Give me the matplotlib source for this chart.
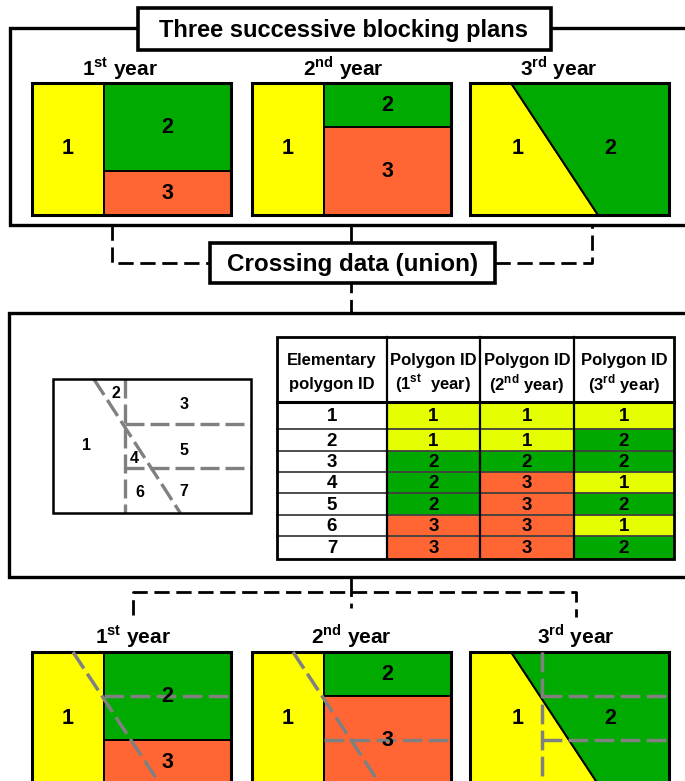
import matplotlib
matplotlib.use("Agg")
import matplotlib.pyplot as plt
from matplotlib.patches import Rectangle, Polygon

plt.rcParams['font.family'] = ['Liberation Sans', 'DejaVu Sans']
plt.rcParams['mathtext.fontset'] = 'custom'
plt.rcParams['mathtext.rm'] = 'Liberation Sans'
plt.rcParams['mathtext.bf'] = 'Liberation Sans:bold'

# ---- data ----
title_top = 'Three successive blocking plans'
title_mid = 'Crossing data (union)'
year_labels = [r'1$^{\mathbf{st}}$ year', r'2$^{\mathbf{nd}}$ year', r'3$^{\mathbf{rd}}$ year']
header_l1 = ['Elementary', 'Polygon ID', 'Polygon ID', 'Polygon ID']
header_l2 = ['polygon ID', r'(1$^{\mathbf{st}}$  year)', r'(2$^{\mathbf{nd}}$ year)', r'(3$^{\mathbf{rd}}$ year)']
elem_ids = [1, 2, 3, 4, 5, 6, 7]
year1_ids = [1, 1, 2, 2, 2, 3, 3]
year2_ids = [1, 1, 2, 3, 3, 3, 3]
year3_ids = [1, 2, 2, 1, 2, 1, 2]
# where each elementary polygon number sits in the small sketch (fractions)
elem_label_pos = [(0.17, 0.50), (0.32, 0.11), (0.66, 0.19), (0.41, 0.59),
                  (0.66, 0.53), (0.44, 0.85), (0.66, 0.84)]

panel_col = {1: '#FFFF00', 2: '#00AA00', 3: '#FF6633'}
table_col = {1: '#E6FF00', 2: '#00A800', 3: '#FF6633'}
GRAY = '#808080'

# geometry of the blocks, as fractions of a panel
DIV_X, CUT1, CUT2 = 0.362, 0.667, 0.333
D0, D1 = 0.206, 0.643


def regions(year):
    if year == 0:
        return {1: [(0, 0), (DIV_X, 0), (DIV_X, 1), (0, 1)],
                2: [(DIV_X, 0), (1, 0), (1, CUT1), (DIV_X, CUT1)],
                3: [(DIV_X, CUT1), (1, CUT1), (1, 1), (DIV_X, 1)]}
    if year == 1:
        return {1: [(0, 0), (DIV_X, 0), (DIV_X, 1), (0, 1)],
                2: [(DIV_X, 0), (1, 0), (1, CUT2), (DIV_X, CUT2)],
                3: [(DIV_X, CUT2), (1, CUT2), (1, 1), (DIV_X, 1)]}
    return {1: [(0, 0), (D0, 0), (D1, 1), (0, 1)],
            2: [(D0, 0), (1, 0), (1, 1), (D1, 1)]}


label_pos = [{1: (0.18, 0.5), 2: (0.68, 0.34), 3: (0.68, 0.84)},
             {1: (0.18, 0.5), 2: (0.68, 0.17), 3: (0.68, 0.67)},
             {1: (0.24, 0.5), 2: (0.705, 0.5)}]

lines_all = {'v': [(DIV_X, 0), (DIV_X, 1)],
             'h1': [(DIV_X, CUT1), (1.01, CUT1)],
             'h2': [(DIV_X, CUT2), (1.01, CUT2)],
             'd': [(D0, 0), (D1, 1)]}
own_lines = [['v', 'h1'], ['v', 'h2'], ['d']]

fig = plt.figure(figsize=(6.85, 7.81), dpi=100)
ax = fig.add_axes([0, 0, 1, 1])
ax.set_xlim(0, 685)
ax.set_ylim(781, 0)
ax.axis('off')

gray_ls = (0, (5.7, 1.8))
blk_ls = (0, (5.5, 2.4))


def to_px(pts, x0, y0, w, h):
    return [(x0 + px * w, y0 + py * h) for px, py in pts]


def draw_panel(x0, y0, year, overlay, w=199, h=132):
    for rid, pts in regions(year).items():
        ax.add_patch(Polygon(to_px(pts, x0, y0, w, h), closed=True,
                             facecolor=panel_col[rid], edgecolor='black', lw=1.4, zorder=2))
        lx, ly = label_pos[year][rid]
        ax.text(x0 + lx * w, y0 + ly * h, str(rid), ha='center', va='center',
                fontsize=15.5, fontweight='bold', zorder=5)
    ax.add_patch(Rectangle((x0, y0), w, h, fill=False, edgecolor='black', lw=2.2, zorder=3))
    if overlay:
        for key, seg in lines_all.items():
            if key in own_lines[year]:
                continue
            xy = to_px(seg, x0, y0, w, h)
            ax.plot([xy[0][0], xy[1][0]], [xy[0][1], xy[1][1]], color=GRAY,
                    lw=2.5, ls=gray_ls, zorder=4)


# ---- top frame ----
ax.plot([700, 10, 10, 700], [28, 28, 225, 225], color='black', lw=2.4, zorder=1,
        solid_joinstyle='miter')
ax.add_patch(Rectangle((138, 8), 413, 42, facecolor='white', edgecolor='black', lw=2.6, zorder=3))
ax.text(344, 30, title_top, ha='center', va='center', fontsize=17, fontweight='bold', zorder=4)

panel_x = [32, 252, 470]
top_label_x = [120, 343, 559]
for i, x0 in enumerate(panel_x):
    draw_panel(x0, 83, i, False)
    ax.text(top_label_x[i], 76, year_labels[i], ha='center', va='baseline',
            fontsize=15, fontweight='bold')

# ---- connectors to crossing box ----
ax.plot([351, 351], [225, 243], color='black', lw=2, zorder=1)
ax.plot([112, 112, 210], [225, 263, 263], color='black', lw=2, ls=blk_ls, zorder=1)
ax.plot([495, 592, 592], [263, 263, 225], color='black', lw=2, ls=blk_ls, zorder=1)
ax.add_patch(Rectangle((210, 243), 285, 40, facecolor='white', edgecolor='black', lw=2.6, zorder=3))
ax.text(353, 264, title_mid, ha='center', va='center', fontsize=17.5, fontweight='bold', zorder=4)
ax.plot([351, 351], [283, 313], color='black', lw=2, ls=(2, (5.5, 2.4)), zorder=1)

# ---- middle frame ----
ax.plot([700, 9, 9, 700], [313, 313, 577, 577], color='black', lw=2.4, zorder=1,
        solid_joinstyle='miter')

# small sketch of elementary polygons
sx, sy, sw, sh = 53, 379, 198, 134
for key, seg in lines_all.items():
    xy = to_px(seg, sx, sy, sw, sh)
    xe = min(xy[1][0], sx + sw)
    ax.plot([xy[0][0], xe], [xy[0][1], xy[1][1]], color=GRAY, lw=2.4, ls=gray_ls, zorder=2)
ax.add_patch(Rectangle((sx, sy), sw, sh, fill=False, edgecolor='black', lw=1.8, zorder=3))
for eid, (fx, fy) in zip(elem_ids, elem_label_pos):
    ax.text(sx + fx * sw, sy + fy * sh, str(eid), ha='center', va='center',
            fontsize=11.5, fontweight='bold', zorder=4)

# table
col_x = [277, 387, 480, 574, 674]
row_y = [402, 429, 451, 472, 493, 515, 536, 559]
head_top = 337
cols = [elem_ids, year1_ids, year2_ids, year3_ids]
for c in range(4):
    cx = (col_x[c] + col_x[c + 1]) / 2
    ax.text(cx, 360, header_l1[c], ha='center', va='center', fontsize=12, fontweight='bold')
    ax.text(cx, 384, header_l2[c], ha='center', va='center', fontsize=12, fontweight='bold')
    for r in range(7):
        val = cols[c][r]
        fc = 'white' if c == 0 else table_col[val]
        ax.add_patch(Rectangle((col_x[c], row_y[r]), col_x[c + 1] - col_x[c],
                               row_y[r + 1] - row_y[r], facecolor=fc, edgecolor='none', zorder=2))
        ax.text(cx, (row_y[r] + row_y[r + 1]) / 2 + 1, str(val), ha='center', va='center',
                fontsize=13.5, fontweight='bold', zorder=5)
for y in row_y[1:-1]:
    ax.plot([col_x[0], col_x[-1]], [y, y], color='#404040', lw=1.3, zorder=3)
for x in col_x[1:-1]:
    ax.plot([x, x], [head_top, row_y[-1]], color='black', lw=1.6, zorder=4)
ax.plot([col_x[0], col_x[-1]], [row_y[0], row_y[0]], color='black', lw=2.2, zorder=4)
ax.add_patch(Rectangle((col_x[0], head_top), col_x[-1] - col_x[0], row_y[-1] - head_top,
                       fill=False, edgecolor='black', lw=2.0, zorder=4))

# ---- connectors to bottom panels ----
ax.plot([351, 351], [577, 608], color='black', lw=2, ls=(0, (7, 2.4, 5.5, 2.4)), zorder=1)
ax.plot([133, 133, 576, 576], [615, 592, 592, 617], color='black', lw=2, ls=blk_ls, zorder=1)

bot_label_x = [133, 351, 576]
for i, x0 in enumerate(panel_x):
    draw_panel(x0, 652, i, True)
    ax.text(bot_label_x[i], 644, year_labels[i], ha='center', va='baseline',
            fontsize=15, fontweight='bold')

fig.savefig('out.png', dpi=100)
